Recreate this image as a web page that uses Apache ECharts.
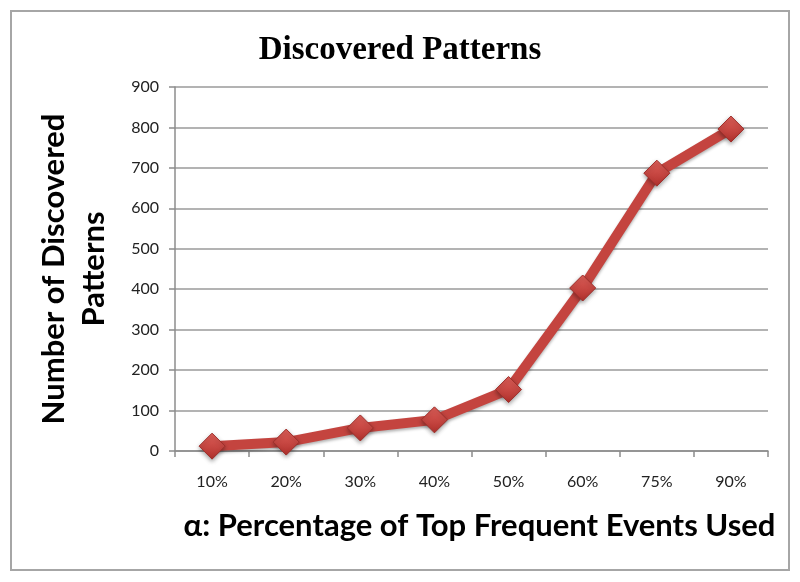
<!DOCTYPE html>
<html>
<head>
<meta charset="utf-8">
<script src="https://cdn.jsdelivr.net/npm/echarts@6/dist/echarts.min.js"></script>
<style>
  html, body { margin: 0; padding: 0; background: #fff; }
  #chart { width: 800px; height: 582px; }
</style>
</head>
<body>
<div id="chart"></div>
<script>
// data
const categories = ['10%', '20%', '30%', '40%', '50%', '60%', '75%', '90%']
const patterns = [12, 22, 57, 77, 152, 403, 687, 796]
const yTicks = { min: 0, max: 900, interval: 100 }

const chart = echarts.init(document.getElementById('chart'))

const option = {
  backgroundColor: '#fff',
  title: {
    text: 'Discovered Patterns',
    left: 'center',
    top: 29,
    textStyle: {
      fontFamily: 'Liberation Serif',
      fontWeight: 'bold',
      fontSize: 33,
      color: '#000'
    }
  },
  graphic: [
    {
      type: 'rect',
      shape: { x: 11, y: 11, width: 778, height: 559 },
      style: { fill: 'none', stroke: '#a6a6a6', lineWidth: 2 },
      silent: true
    }
  ],
  grid: {
    left: 175,
    right: 32,
    top: 87,
    bottom: 131
  },
  xAxis: {
    type: 'category',
    data: categories,
    boundaryGap: true,
    name: 'α: Percentage of Top Frequent Events Used',
    nameLocation: 'middle',
    nameGap: 59,
    nameTextStyle: {
      fontFamily: 'Lato',
      fontWeight: 'bold',
      fontSize: 31,
      color: '#000',
      padding: [0, 0, 0, 16]
    },
    axisLine: { lineStyle: { color: '#8c8c8c', width: 1.5 } },
    axisTick: { show: true, length: 6, lineStyle: { color: '#8c8c8c', width: 1.5 } },
    axisLabel: {
      margin: 23,
      fontFamily: 'Lato',
      fontSize: 16,
      color: '#222'
    }
  },
  yAxis: {
    type: 'value',
    min: yTicks.min,
    max: yTicks.max,
    interval: yTicks.interval,
    name: 'Number of Discovered\nPatterns',
    nameLocation: 'middle',
    nameRotate: 90,
    nameGap: 61,
    nameTextStyle: {
      fontFamily: 'Lato',
      fontWeight: 'bold',
      fontSize: 31,
      lineHeight: 40,
      color: '#000'
    },
    axisLine: { show: true, lineStyle: { color: '#8c8c8c', width: 1.5 } },
    axisTick: { show: true, length: 6, lineStyle: { color: '#8c8c8c', width: 1.5 } },
    axisLabel: {
      margin: 16,
      fontFamily: 'Lato',
      fontSize: 16,
      color: '#222'
    },
    splitLine: { lineStyle: { color: '#9a9a9a', width: 1.5 } }
  },
  series: [
    {
      name: 'Discovered Patterns',
      type: 'line',
      data: patterns,
      symbol: 'diamond',
      symbolSize: 26,
      lineStyle: {
        color: '#c4443f',
        width: 10,
        shadowColor: 'rgba(0,0,0,0.3)',
        shadowBlur: 3,
        shadowOffsetY: 2
      },
      itemStyle: {
        color: new echarts.graphic.LinearGradient(0, 0, 0, 1, [
          { offset: 0, color: '#e0605a' },
          { offset: 1, color: '#b0302c' }
        ]),
        borderColor: '#9e2f2b',
        borderWidth: 1,
        shadowColor: 'rgba(0,0,0,0.35)',
        shadowBlur: 4,
        shadowOffsetY: 2
      },
      z: 3
    }
  ]
}

chart.setOption(option)

window.onresize = () => {
  chart.resize()
}
</script>
</body>
</html>
